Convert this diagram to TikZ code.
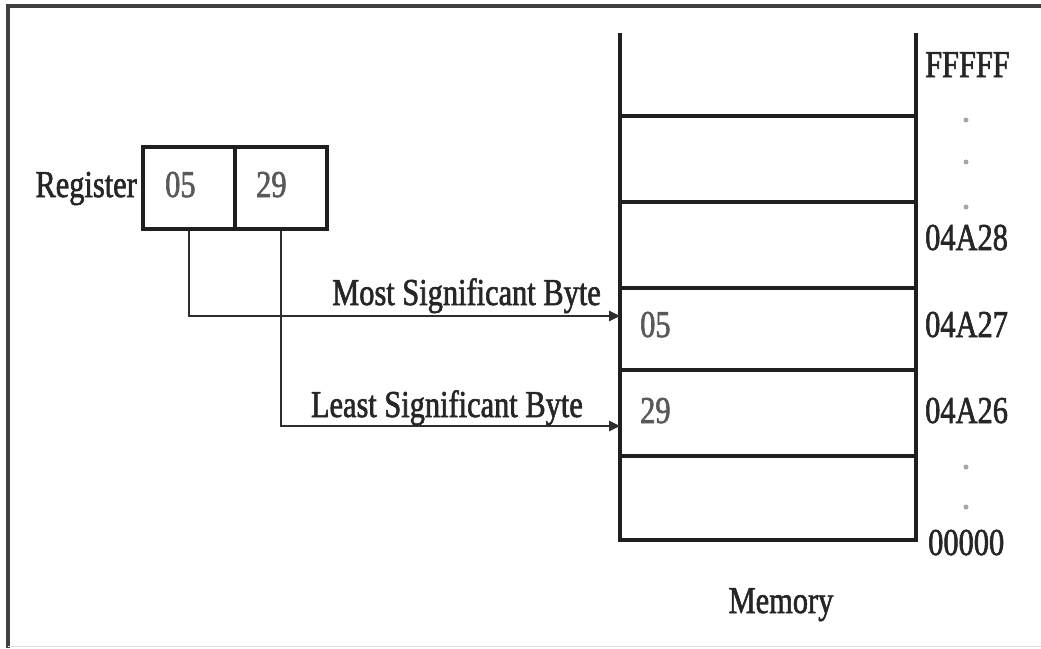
\documentclass[tikz,border=0pt]{standalone}
\usepackage{fontspec}
\setmainfont[FakeStretch=0.8]{Liberation Serif}
\newfontfamily\lblfont[FakeStretch=0.8,FakeBold=1.6]{Liberation Serif}
\usetikzlibrary{arrows.meta}
\begin{document}
\begin{tikzpicture}[x=1pt,y=-1pt,
  line/.style={line width=3.2pt, black!88},
  cell/.style={draw=black!88, line width=3.2pt, minimum width=92pt, minimum height=82pt, inner sep=0pt},
  lbl/.style={inner sep=0pt, font=\lblfont\fontsize{38}{40}\selectfont, text=black!85},
  val/.style={inner sep=0pt, font=\lblfont\fontsize{38}{40}\selectfont, text=black!65},
  conn/.style={line width=2.6pt, black!82, -{Triangle[length=11pt,width=10pt]}},
  dot/.style={circle, fill=black!35, inner sep=0pt, minimum size=5pt}]
\useasboundingbox (0,0) rectangle (1041,648);
% frame
\draw[line width=4pt, black!75] (8,648) -- (8,6) -- (1041,6);
\draw[line width=1pt, black!12] (8,646) -- (1041,646);
% register
\node[lbl, anchor=base east] (reglbl) at (137,197) {Register};
\node[cell] (r1) at (189,188) {};
\node[cell] (r2) at (281,188) {};
\node[val, anchor=base west] (v05) at (165,197) {05};
\node[val, anchor=base west] (v29) at (256,197) {29};
% memory
\draw[line] (620,33) -- (620,540) -- (916,540) -- (916,33);
\foreach \y in {116,202,288,370,456} \draw[line] (620,\y) -- (916,\y);
\coordinate (msbin) at (620,316);
\coordinate (lsbin) at (620,426);
\node[val, anchor=base west] (m05) at (640,337) {05};
\node[val, anchor=base west] (m29) at (640,423) {29};
% connectors
\draw[conn] (r1.south) |- (msbin);
\draw[conn] (r2.south) |- (lsbin);
\node[lbl, anchor=base east] (msb) at (601,305) {Most Significant Byte};
\node[lbl, anchor=base east] (lsb) at (583,417) {Least Significant Byte};
% addresses
\node[lbl, anchor=base west] (aF) at (925,77) {FFFFF};
\node[dot] (d1) at (966,120) {};
\node[dot] (d2) at (966,162) {};
\node[dot] (d3) at (966,207) {};
\node[lbl, anchor=base west] (a28) at (925,250) {04A28};
\node[lbl, anchor=base west] (a27) at (925,337) {04A27};
\node[lbl, anchor=base west] (a26) at (925,423) {04A26};
\node[dot] (d4) at (966,467) {};
\node[dot] (d5) at (966,507) {};
\node[lbl, anchor=base west] (a0) at (928,555) {00000};
\node[lbl, anchor=base] (memlbl) at (781,613) {Memory};
\end{tikzpicture}
\end{document}
